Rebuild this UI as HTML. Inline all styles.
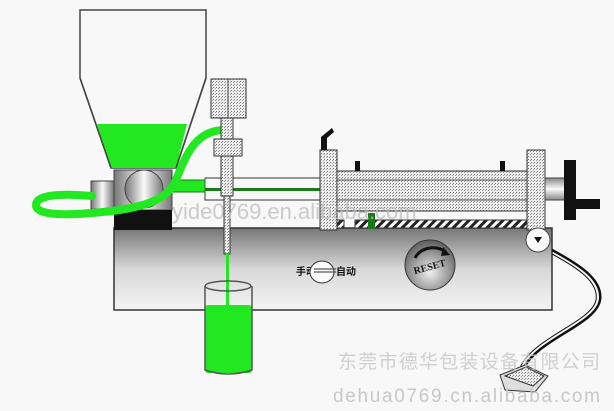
<!DOCTYPE html>
<html><head><meta charset="utf-8"><style>
html,body{margin:0;padding:0;background:#f8f8f8;}
svg{display:block}
</style></head><body>
<svg width="614" height="411" viewBox="0 0 614 411" xmlns="http://www.w3.org/2000/svg">
<defs>
<pattern id="dots" width="3" height="3" patternUnits="userSpaceOnUse">
<rect width="3" height="3" fill="#eee"/><rect width="1" height="1" fill="#777"/><rect x="2" y="1" width="1" height="1" fill="#999"/>
</pattern>
<pattern id="hatch" width="6" height="6" patternUnits="userSpaceOnUse" patternTransform="rotate(45)">
<rect width="6" height="6" fill="#fff"/><rect width="3" height="6" fill="#222"/>
</pattern>
<linearGradient id="body" x1="0" y1="0" x2="0" y2="1">
<stop offset="0" stop-color="#777"/><stop offset="0.5" stop-color="#d8d8d8"/><stop offset="1" stop-color="#f4f4f4"/>
</linearGradient>
<linearGradient id="cyl" x1="0" y1="0" x2="0" y2="1">
<stop offset="0" stop-color="#888"/><stop offset="0.5" stop-color="#fafafa"/><stop offset="1" stop-color="#888"/>
</linearGradient>
<linearGradient id="cylh" x1="0" y1="0" x2="1" y2="0">
<stop offset="0" stop-color="#777"/><stop offset="0.5" stop-color="#fafafa"/><stop offset="1" stop-color="#777"/>
</linearGradient>
<radialGradient id="ball" cx="0.5" cy="0.65" r="0.6">
<stop offset="0" stop-color="#f0f0f0"/><stop offset="1" stop-color="#666"/>
</radialGradient>
</defs>

<!-- main body -->
<rect x="114" y="228" width="438" height="82" fill="url(#body)" stroke="#333" stroke-width="1.5"/>

<!-- hopper -->
<path d="M80,10 H206 V78 L176,168 H111 L80,78 Z" fill="#f8f8f8" stroke="#444" stroke-width="1.5"/>
<path d="M97,124 H187 L176,168 H111 Z" fill="#22e822"/>
<path d="M80,78 L111,168 M206,78 L176,168" stroke="#444" stroke-width="1.5" fill="none"/>

<!-- lines to right -->
<rect x="205" y="178" width="115" height="22" fill="#f8f8f8" stroke="#333"/>
<rect x="205" y="188" width="115" height="3" fill="#1a7a1a"/>

<!-- valve block -->
<rect x="114" y="170" width="58" height="40" fill="url(#cylh)" stroke="#444"/>
<rect x="114" y="210" width="58" height="20" fill="#111"/>
<circle cx="144" cy="189" r="19" fill="url(#cylh)" stroke="#444"/>
<rect x="91" y="181" width="23" height="28" fill="url(#cylh)" stroke="#444"/>
<rect x="172" y="180" width="33" height="12" fill="#22e822" stroke="#1a7a1a"/>

<!-- green tube -->
<path d="M92,196 C60,193 36,195 36,205 C36,218 80,215 120,210 C150,205 168,198 176,180 C186,155 195,132 222,130" fill="none" stroke="#22e822" stroke-width="8" stroke-linecap="round"/>

<!-- nozzle -->
<rect x="221" y="116" width="12" height="80" fill="url(#dots)" stroke="#333"/>
<rect x="224" y="196" width="6" height="58" fill="url(#dots)" stroke="#333"/>
<rect x="211" y="79" width="35" height="39" fill="url(#dots)" stroke="#333"/>
<line x1="228" y1="79" x2="228" y2="118" stroke="#555"/>
<rect x="214" y="139" width="28" height="17" fill="url(#dots)" stroke="#333"/>
<rect x="226" y="254" width="3" height="52" fill="#22e822"/>

<!-- right cylinder -->
<rect x="337" y="171" width="190" height="40" fill="url(#dots)" stroke="#333"/>
<line x1="337" y1="180" x2="527" y2="180" stroke="#555"/>
<line x1="337" y1="200" x2="527" y2="200" stroke="#555"/>
<rect x="355" y="220" width="172" height="8" fill="url(#hatch)" stroke="#333"/>
<rect x="337" y="220" width="7" height="8" fill="url(#hatch)" stroke="#333"/>
<rect x="355" y="161" width="5" height="10" fill="#111"/>
<rect x="500" y="161" width="5" height="10" fill="#111"/>
<rect x="368" y="213" width="7" height="16" fill="#1a7a1a"/>
<rect x="320" y="150" width="17" height="80" fill="url(#dots)" stroke="#333"/>
<rect x="527" y="150" width="18" height="80" fill="url(#dots)" stroke="#333"/>
<path d="M321,150 V137 L332,128 L334,132 L327,138 V150 Z" fill="#111"/>
<rect x="545" y="178" width="20" height="22" fill="url(#cyl)" stroke="#444"/>
<rect x="564" y="160" width="12" height="60" fill="#111"/>
<rect x="564" y="199" width="36" height="10" fill="#111"/>

<!-- button -->
<circle cx="538" cy="240" r="12" fill="#fafafa" stroke="#444"/>
<path d="M534,237 H542 L538,243 Z" fill="#111"/>

<!-- cable -->
<path d="M552,250 C580,265 603,280 600,300 C596,325 535,340 523,370" fill="none" stroke="#111" stroke-width="2.5"/>
<path d="M552,254 C578,268 599,282 596,300 C592,322 532,338 520,368" fill="none" stroke="#111" stroke-width="1"/>
<!-- pedal -->
<path d="M500,375 L525,365 L548,376 L535,392 L505,390 Z" fill="#ddd" stroke="#333"/>
<path d="M505,376 L526,367 L544,376 L533,386 Z" fill="url(#dots)" stroke="#333"/>

<!-- reset ball -->
<circle cx="430" cy="265" r="25" fill="url(#ball)" stroke="#333"/>
<path d="M415,258 C420,248 435,244 446,252" fill="none" stroke="#111" stroke-width="3"/>
<path d="M443,247 L450,255 L441,256 Z" fill="#111"/>
<text x="430" y="270" font-family="Liberation Serif,serif" font-size="10" font-weight="bold" text-anchor="middle" transform="rotate(-15 430 268)" fill="#111">RESET</text>

<!-- switch -->
<text x="296" y="275" font-family="Liberation Sans,'Noto Sans CJK SC',sans-serif" font-size="10" font-weight="bold" fill="#111">手动</text>
<ellipse cx="322" cy="272" rx="12" ry="11" fill="#fafafa" stroke="#333"/>
<path d="M314,272 H336 M314,269 H336" stroke="#333" stroke-width="1"/>
<text x="336" y="275" font-family="Liberation Sans,'Noto Sans CJK SC',sans-serif" font-size="10" font-weight="bold" fill="#111">自动</text>

<!-- cup -->
<rect x="205" y="305" width="47" height="68" rx="3" fill="#22e822"/>
<path d="M205,286 V370 Q228,378 252,370 V286" fill="none" stroke="#555" stroke-width="1.5"/>
<ellipse cx="228" cy="286" rx="23" ry="5" fill="none" stroke="#555" stroke-width="1.5"/>

<!-- watermarks -->
<text x="172" y="219" font-family="Liberation Sans,sans-serif" font-size="22" fill="#bbb" fill-opacity="0.75">yide0769.en.alibaba.com</text>
<text x="338" y="368" font-family="Liberation Sans,'Noto Sans CJK SC',sans-serif" font-size="19" fill="#c8c8c8" fill-opacity="0.85" textLength="262">东莞市德华包装设备有限公司</text>
<text x="333" y="402" font-family="Liberation Sans,sans-serif" font-size="19" fill="#c8c8c8" textLength="267">dehua0769.cn.alibaba.com</text>
</svg>
</body></html>
